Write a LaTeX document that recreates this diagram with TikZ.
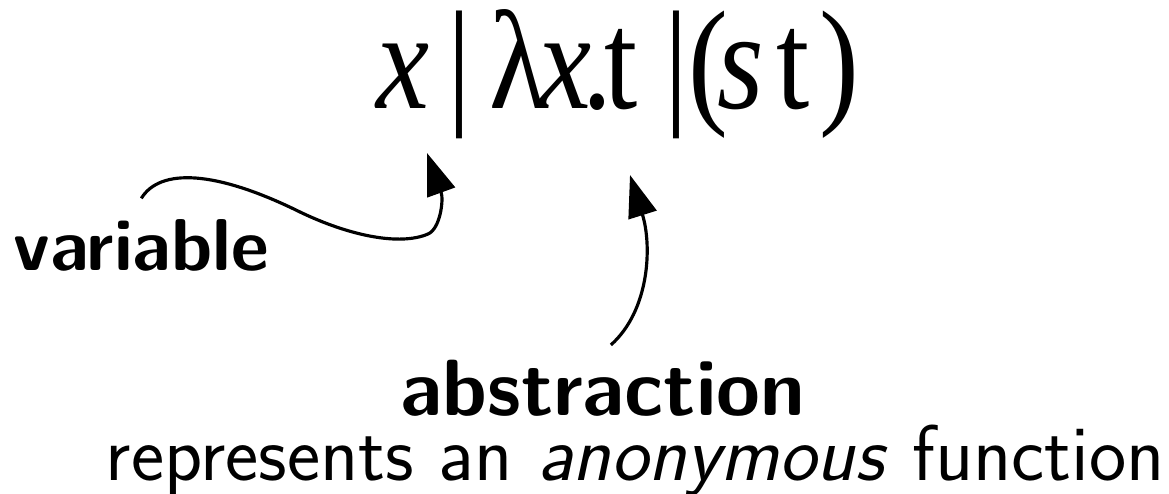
\documentclass[tikz,border=0pt]{standalone}
\usepackage{fontspec}
\newfontfamily\termfont[FakeStretch=0.85]{Liberation Serif}
\usetikzlibrary{arrows.meta, positioning}

\begin{document}
\begin{tikzpicture}[
    x=0.1mm, y=-0.1mm,
    term/.style={font=\termfont\fontsize{40}{40}\selectfont,
      inner sep=0pt, anchor=base west},
    tag/.style={font=\sffamily\bfseries\fontsize{20.9}{20.9}\selectfont,
      inner sep=0pt, anchor=base west},
    note/.style={font=\sffamily\fontsize{22.5}{22.5}\selectfont,
      inner sep=0pt, anchor=base west},
    pointer/.style={-{Triangle[length=4.2mm, width=2.9mm]}, line width=0.9pt}
]
\useasboundingbox (0,0) rectangle (1169,493);

% the grammar of terms, one symbol at a time
\foreach \pos/\sym [count=\i] in {376/\textit{x}, 447/|, 489/λ, 538/\textit{x},
    582/., 604/t, 664/|, 688/(, 717/\textit{s}, 776/t, 819/)}
  \node[term] (sym\i) at (\pos,108) {\sym};

% labels
\node[tag] (variable) at (13,270) {variable};
\node[tag, font=\sffamily\bfseries\fontsize{22.7}{22.7}\selectfont] (abstraction) at (400,415) {abstraction};
\node[note] (desc) at (105,480) {represents an \textit{anonymous} function};

\coordinate (vartip) at (427,153);
\coordinate (abstip) at (630,175);

\draw[pointer] ([yshift=2mm]variable.north) .. controls (160,168) and (215,170) .. (300,212)
  .. controls (350,236) and (400,246) .. (428,234)
  .. controls (440,229) and (444,200) .. (vartip);
\draw[pointer] ([xshift=0.8mm, yshift=1.4mm]abstraction.north) .. controls (650,310) and (652,245) .. (abstip);

\end{tikzpicture}
\end{document}
